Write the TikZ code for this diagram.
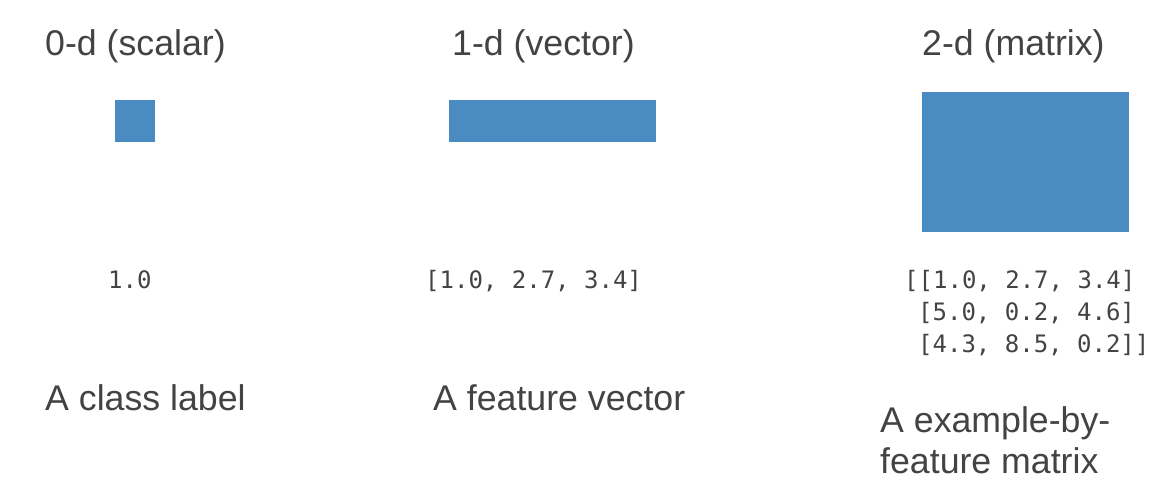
\documentclass[tikz,border=0pt]{standalone}
\usepackage{fontspec}
\setmainfont{Liberation Sans}
\newfontfamily\codefont{DejaVu Sans Mono}
\definecolor{txt}{HTML}{434343}
\definecolor{blk}{HTML}{4A8CC2}
\begin{document}
\begin{tikzpicture}[x=1pt,y=-1pt,
  lbl/.style={anchor=base west,inner sep=0pt,text=txt,font=\fontsize{35.7}{41}\selectfont},
  code/.style={anchor=base west,inner sep=0pt,text=txt,font=\codefont\fontsize{24}{32}\selectfont},
  box/.style={fill=blk,draw=none}]
\useasboundingbox (0,0) rectangle (1171,491);
\node[lbl] (t0) at (45,55) {0-d (scalar)};
\node[lbl] (t1) at (452,55) {1-d (vector)};
\node[lbl] (t2) at (922,55) {2-d (matrix)};
\fill[box] (115,100) rectangle (155,142);
\fill[box] (449,100) rectangle (656,142);
\fill[box] (922,92) rectangle (1129,232);
\node[code] (c0) at (108,288) {1.0};
\node[code] (c1) at (425,288) {[1.0, 2.7, 3.4]};
\node[code] (m1) at (904,288) {[[1.0, 2.7, 3.4]};
\node[code] (m2) at (918,320) {[5.0, 0.2, 4.6]};
\node[code] (m3) at (918,352) {[4.3, 8.5, 0.2]]};
\node[lbl] (d0) at (45,410) {A class label};
\node[lbl] (d1) at (433,410) {A feature vector};
\node[lbl] (d2a) at (880,432) {A example-by-};
\node[lbl] (d2b) at (880,473) {feature matrix};
\end{tikzpicture}
\end{document}
